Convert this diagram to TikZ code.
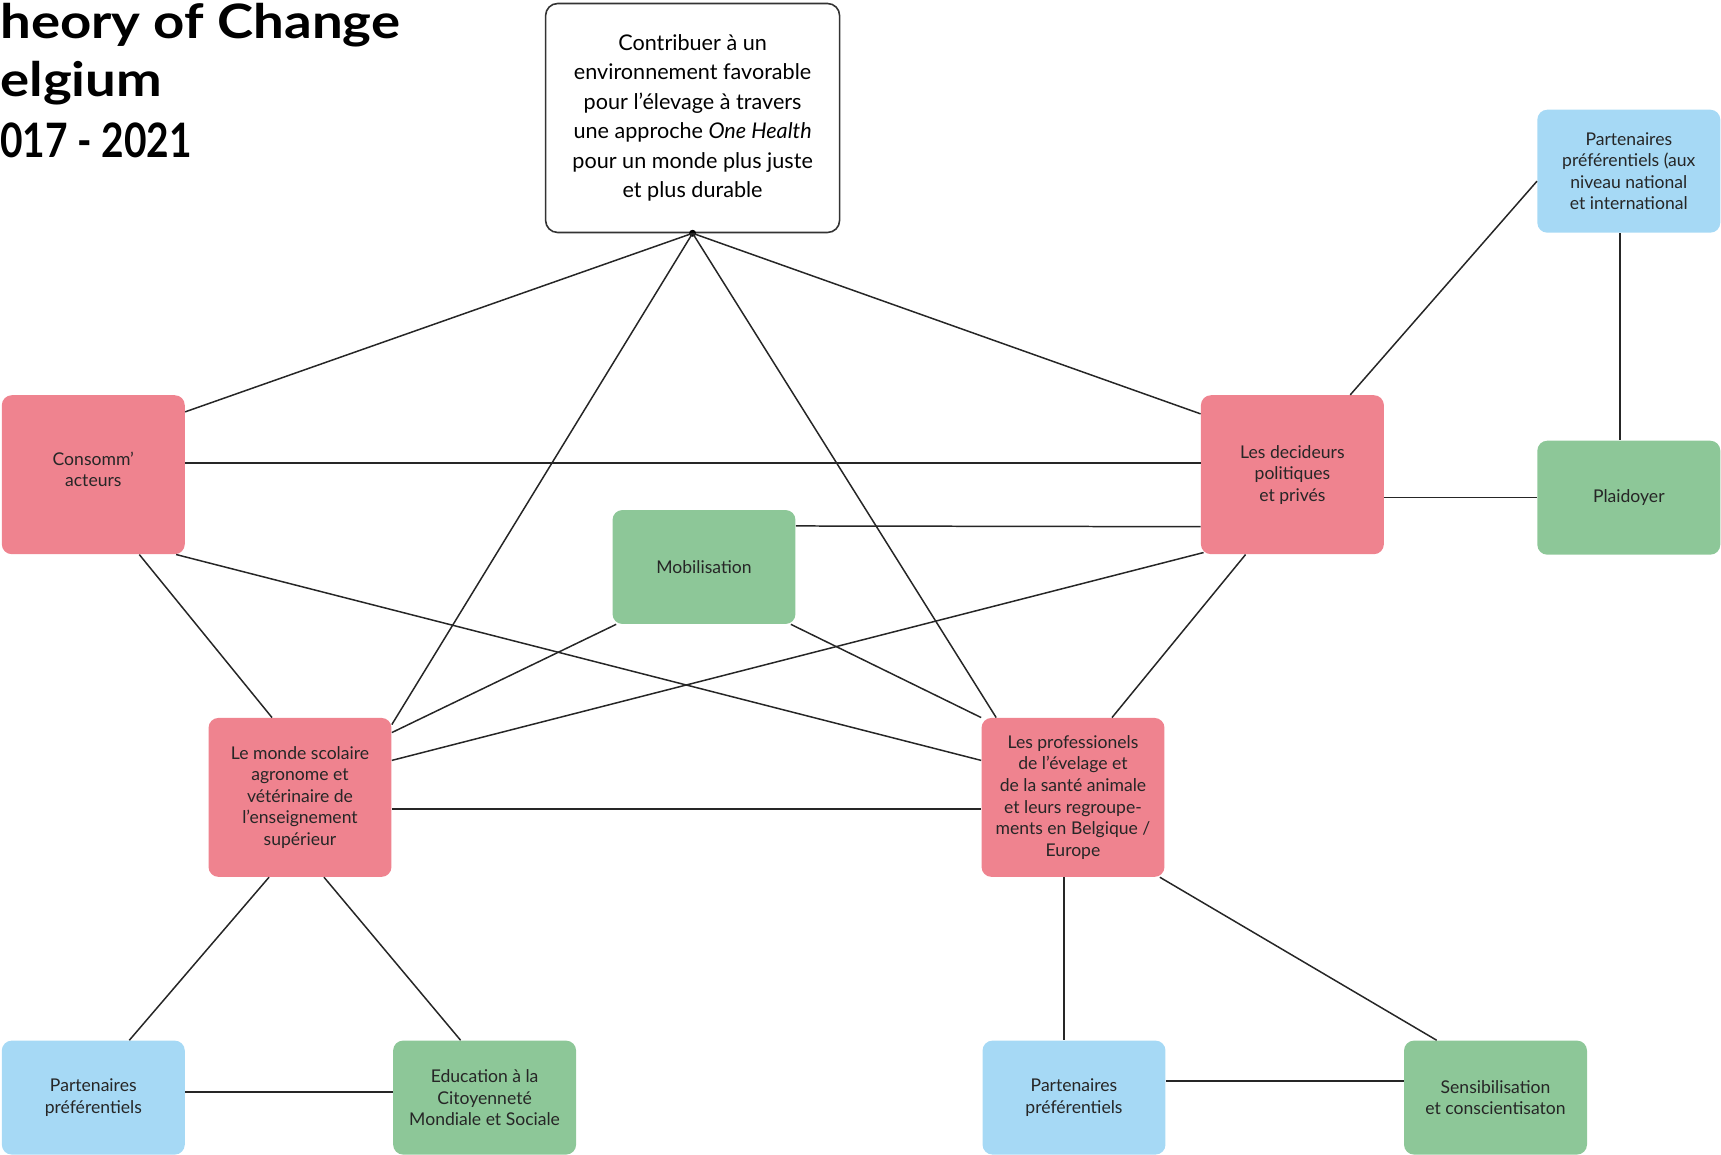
\documentclass[tikz,border=0pt]{standalone}
\usepackage{fontspec}
\setmainfont{Lato}
\usepackage{xcolor}
\usepackage{tikz}
\usetikzlibrary{positioning}
\usetikzlibrary{calc}

\definecolor{tocpink}{HTML}{EF838F}
\definecolor{tocblue}{HTML}{A6D9F5}
\definecolor{tocgreen}{HTML}{8DC798}
\definecolor{tocline}{HTML}{262626}

\begin{document}
\begin{tikzpicture}[x=0.02cm, y=-0.02cm,
  tocbox/.style={rounded corners=0.2cm, align=center, inner sep=2pt,
    minimum width=3.66cm, text=black!85,
    font=\fontsize{10}{12.3}\selectfont},
  pinkbox/.style={tocbox, fill=tocpink, minimum height=3.18cm},
  greenbox/.style={tocbox, fill=tocgreen, minimum height=2.28cm},
  bluebox/.style={tocbox, fill=tocblue, minimum height=2.28cm},
  goalbox/.style={draw=black!80, line width=0.9pt, rounded corners=0.24cm,
    align=center, minimum width=5.88cm, minimum height=4.58cm,
    font=\fontsize{12.3}{16.8}\selectfont},
  heading/.style={anchor=base west, inner sep=0pt,
    font=\fontsize{27}{30}\selectfont\bfseries},
  link/.style={draw=tocline, line width=0.85pt}]

  \useasboundingbox (0,0) rectangle (1721,1155);

  \node[heading] (head1) at (0,39) {\scalebox{1.15}[1]{\llap{T}heory of Change}};
  \node[heading] (head2) at (0,97) {\scalebox{1.15}[1]{\llap{B}elgium}};
  \node[heading] (head3) at (0,158) {\scalebox{0.82}[1]{\llap{2}017 - 2021}};

  \node[goalbox] (goal) at (692.6,118) {Contribuer à un\\environnement favorable\\pour l’élevage à travers\\une approche \textit{One Health}\\pour un monde plus juste\\et plus durable};
  \fill (goal.south) circle[radius=0.07cm];

  \node[bluebox, minimum height=2.46cm] (partInt) at (1628.8,171.2) {Partenaires\\préférentiels (aux\\niveau national\\et international};
  \node[pinkbox] (conso) at (93.3,474.7) {Consomm’\\acteurs\\[-6.3pt]};
  \node[pinkbox] (decid) at (1292.4,474.7) {Les decideurs\\politiques\\et privés};
  \node[greenbox] (plaid) at (1628.8,497.7) {Plaidoyer};
  \node[greenbox] (mobil) at (704,567) {Mobilisation};
  \node[pinkbox] (scol) at (300,797.4) {Le monde scolaire\\agronome et\\vétérinaire de\\l’enseignement\\supérieur};
  \node[pinkbox] (prof) at (1073,797.4) {Les professionels\\de l’évelage et\\de la santé animale\\et leurs regroupe-\\ments en Belgique /\\Europe};

  \node[bluebox] (partBL) at (93.3,1097.6) {Partenaires\\préférentiels};
  \node[greenbox] (educ) at (484.6,1097.6) {Education à la\\Citoyenneté\\Mondiale et Sociale};
  \node[bluebox] (partBM) at (1074,1097.6) {Partenaires\\préférentiels};
  \node[greenbox] (sensib) at (1495.5,1097.6) {Sensibilisation\\et conscientisaton};

  \draw[link] (goal.south) -- ($(conso.north east)+(0,17)$);
  \draw[link] (goal.south) -- ($(decid.north west)+(0,19)$);
  \draw[link] (goal.south) -- ($(scol.north east)+(0,7)$);
  \draw[link] (goal.south) -- ($(prof.north west)+(15,0)$);

  \draw[link] ($(conso.east)+(0,-11.5)$) -- ($(decid.west)+(0,-11.5)$);
  \draw[link] ($(conso.south)+(46,0)$) -- ($(scol.north)+(-28,0)$);
  \draw[link] ($(conso.south east)+(-9,0)$) -- ($(prof.west)+(0,-37)$);

  \draw[link] ($(mobil.north east)+(0,16.3)$) -- ($(decid.west)+(0,52)$);
  \draw[link] ($(mobil.south west)+(4,0)$) -- ($(scol.north east)+(0,15)$);
  \draw[link] ($(mobil.south east)+(-5,0)$) -- (prof.north west);

  \draw[link] ($(decid.south west)+(3,-2)$) -- ($(scol.east)+(0,-37)$);
  \draw[link] ($(decid.south west)+(45,0)$) -- ($(prof.north)+(39,0)$);
  \draw[link] ($(decid.east)+(0,23)$) -- (plaid.west);
  \draw[link] ($(decid.north east)+(-34,0)$) -- ($(partInt.west)+(0,10)$);
  \draw[link] ($(partInt.south)+(-9,0)$) -- ($(plaid.north)+(-9,0)$);

  \draw[link] ($(scol.east)+(0,11.5)$) -- ($(prof.west)+(0,11.5)$);
  \draw[link] ($(scol.south)+(-31,0)$) -- ($(partBL.north)+(36,0)$);
  \draw[link] ($(scol.south)+(24,0)$) -- ($(educ.north)+(-24,0)$);
  \draw[link] ($(partBL.east)+(0,-5.6)$) -- ($(educ.west)+(0,-5.6)$);

  \draw[link] ($(prof.south)+(-9,0)$) -- ($(partBM.north)+(-10,0)$);
  \draw[link] ($(prof.south east)+(-5,0)$) -- ($(sensib.north west)+(33,0)$);
  \draw[link] ($(partBM.east)+(0,-16.6)$) -- ($(sensib.west)+(0,-16.6)$);
\end{tikzpicture}
\end{document}
